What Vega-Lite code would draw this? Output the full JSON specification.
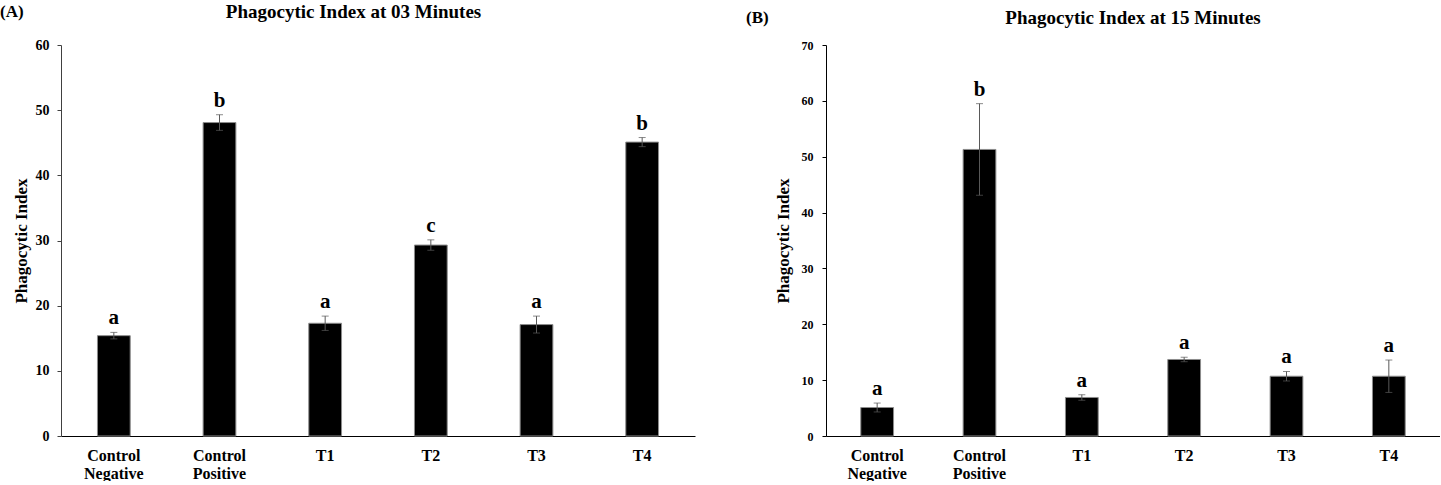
{
  "$schema": "https://vega.github.io/schema/vega-lite/v6.json",
  "padding": {"top": 3, "left": 0, "right": 0, "bottom": 0},
  "background": "white",
  "config": {"font": "Liberation Serif", "view": {"stroke": null}},
  "spacing": 51,
  "datasets": {
    "a3": [
      {"group": "Control Negative", "value": 15.4, "lo": 14.9, "hi": 15.9, "letter": "a"},
      {"group": "Control Positive", "value": 48.1, "lo": 46.9, "hi": 49.3, "letter": "b"},
      {"group": "T1", "value": 17.3, "lo": 16.2, "hi": 18.4, "letter": "a"},
      {"group": "T2", "value": 29.3, "lo": 28.5, "hi": 30.1, "letter": "c"},
      {"group": "T3", "value": 17.1, "lo": 15.8, "hi": 18.4, "letter": "a"},
      {"group": "T4", "value": 45.1, "lo": 44.4, "hi": 45.8, "letter": "b"}
    ],
    "b15": [
      {"group": "Control Negative", "value": 5.1, "lo": 4.3, "hi": 5.9, "letter": "a"},
      {"group": "Control Positive", "value": 51.3, "lo": 43.1, "hi": 59.5, "letter": "b"},
      {"group": "T1", "value": 6.9, "lo": 6.4, "hi": 7.4, "letter": "a"},
      {"group": "T2", "value": 13.7, "lo": 13.3, "hi": 14.1, "letter": "a"},
      {"group": "T3", "value": 10.7, "lo": 9.85, "hi": 11.55, "letter": "a"},
      {"group": "T4", "value": 10.7, "lo": 7.8, "hi": 13.6, "letter": "a"}
    ]
  },
  "hconcat": [
    {
      "title": {"text": "(A)", "anchor": "start", "fontSize": 17, "fontWeight": "bold", "color": "black", "offset": -18, "dx": -12},
      "vconcat": [
        {
          "data": {"name": "a3"},
          "width": 634,
          "height": 391,
          "title": {"text": "Phagocytic Index at 03 Minutes", "fontSize": 19, "fontWeight": "bold", "color": "black", "offset": 19, "frame": "bounds", "anchor": "middle", "dy": 3},
          "encoding": {
            "x": {
              "field": "group", "type": "nominal", "sort": null,
              "scale": {"paddingInner": 0.69, "paddingOuter": 0.345},
              "axis": {"title": null, "labelAngle": 0, "labelFontSize": 16, "labelFontWeight": "bold", "labelColor": "black", "ticks": false, "labelPadding": 11, "labelLineHeight": 18, "labelExpr": "split(datum.label, ' ')", "domainColor": "black", "domainWidth": 1}
            }
          },
          "layer": [
            {
              "mark": {"type": "bar", "color": "black", "stroke": "#8c8c8c", "strokeWidth": 1},
              "encoding": {
                "y": {"field": "value", "type": "quantitative", "title": "Phagocytic Index", "scale": {"domain": [0, 60]},
                  "axis": {"title": "Phagocytic Index", "titleFontSize": 17, "titleFontWeight": "bold", "titleColor": "black", "titlePadding": 5, "values": [0, 10, 20, 30, 40, 50, 60], "labelFontSize": 14, "labelFontWeight": "bold", "labelColor": "black", "labelPadding": 8, "tickSize": 4, "domainColor": "#404040", "tickColor": "#404040", "grid": false}}
              }
            },
            {
              "mark": {"type": "errorbar", "color": "#595959", "ticks": {"size": 7, "color": "#595959"}},
              "encoding": {
                "y": {"field": "lo", "type": "quantitative", "title": "Phagocytic Index"},
                "y2": {"field": "hi"}
              }
            },
            {
              "mark": {"type": "text", "fontSize": 21, "fontWeight": "bold", "baseline": "bottom", "dy": -4, "color": "black"},
              "encoding": {
                "y": {"field": "hi", "type": "quantitative", "title": "Phagocytic Index"},
                "text": {"field": "letter"}
              }
            }
          ]
        }
      ]
    },
    {
      "title": {"text": "(B)", "anchor": "start", "fontSize": 17, "fontWeight": "bold", "color": "black", "offset": -18, "dx": -28},
      "vconcat": [
        {
          "data": {"name": "b15"},
          "width": 614,
          "height": 391,
          "title": {"text": "Phagocytic Index at 15 Minutes", "fontSize": 19, "fontWeight": "bold", "color": "black", "offset": 19, "frame": "group", "anchor": "middle", "dy": 8},
          "encoding": {
            "x": {
              "field": "group", "type": "nominal", "sort": null,
              "scale": {"paddingInner": 0.68, "paddingOuter": 0.34},
              "axis": {"title": null, "labelAngle": 0, "labelFontSize": 16, "labelFontWeight": "bold", "labelColor": "black", "ticks": false, "labelPadding": 11, "labelLineHeight": 18, "labelExpr": "split(datum.label, ' ')", "domainColor": "black", "domainWidth": 1}
            }
          },
          "layer": [
            {
              "mark": {"type": "bar", "color": "black", "stroke": "#8c8c8c", "strokeWidth": 1},
              "encoding": {
                "y": {"field": "value", "type": "quantitative", "title": "Phagocytic Index", "scale": {"domain": [0, 70]},
                  "axis": {"title": "Phagocytic Index", "titleFontSize": 17, "titleFontWeight": "bold", "titleColor": "black", "titlePadding": 9, "values": [0, 10, 20, 30, 40, 50, 60, 70], "labelFontSize": 12, "labelFontWeight": "bold", "labelColor": "black", "labelPadding": 9, "tickSize": 4, "domainColor": "black", "tickColor": "black", "grid": false}}
              }
            },
            {
              "mark": {"type": "errorbar", "color": "#595959", "ticks": {"size": 7, "color": "#595959"}},
              "encoding": {
                "y": {"field": "lo", "type": "quantitative", "title": "Phagocytic Index"},
                "y2": {"field": "hi"}
              }
            },
            {
              "mark": {"type": "text", "fontSize": 21, "fontWeight": "bold", "baseline": "bottom", "dy": -4, "color": "black"},
              "encoding": {
                "y": {"field": "hi", "type": "quantitative", "title": "Phagocytic Index"},
                "text": {"field": "letter"}
              }
            }
          ]
        }
      ]
    }
  ]
}
